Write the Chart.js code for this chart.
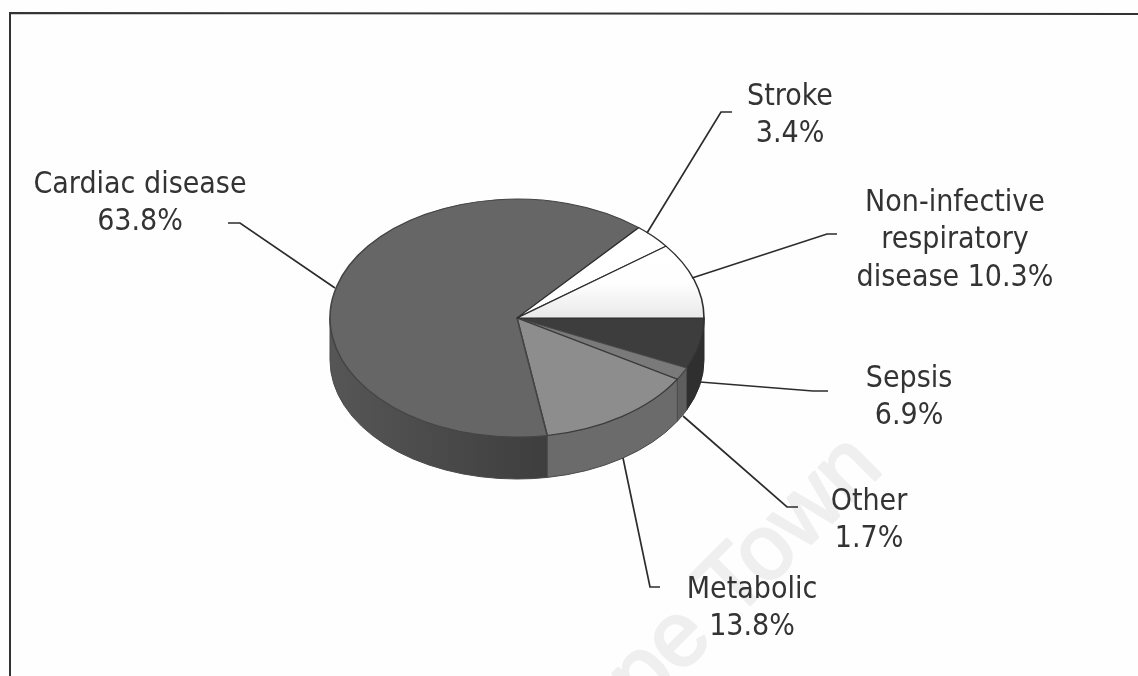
<!DOCTYPE html>
<html>
<head>
<meta charset="utf-8">
<style>html,body{margin:0;padding:0;background:#fff}#w{width:1138px;height:676px;position:relative}</style>
<script src="https://cdn.jsdelivr.net/npm/chart.js@4"></script>
</head>
<body>
<div id="w"><canvas id="c" width="1138" height="676"></canvas></div>
<script>
const categories = ["Sepsis", "Other", "Metabolic", "Cardiac disease", "Stroke", "Non-infective respiratory disease"];
const shareValues = [6.9, 1.7, 13.8, 63.8, 3.4, 10.3];
const topColors = ["#3d3d3d", "#7a7a7a", "#8d8d8d", "#666666", "#ffffff", "#ffffff"];
const sideColors = ["#2f2f2f", "#5e5e5e", "#6b6b6b", "#474747", "#dddddd", "#dddddd"];

const SQUASH = 119 / 187, DEPTH = 42;
const FONT = '30px "DejaVu Sans Condensed","DejaVu Sans",sans-serif';
const labelLayout = [
  {lines:["Sepsis","6.9%"], x:909, y:[387,424], path:[[828,391],[813,391],[700,382]]},
  {lines:["Other","1.7%"], x:869, y:[510,547], path:[[798,507],[787,507],[683,416]]},
  {lines:["Metabolic","13.8%"], x:752, y:[598,635], path:[[660,587],[650,587],[623,458]]},
  {lines:["Cardiac disease","63.8%"], x:140, y:[193,230], path:[[228,223],[240,223],[335,288]]},
  {lines:["Stroke","3.4%"], x:790, y:[105,142], path:[[732,112],[721,112],[647,233]]},
  {lines:["Non-infective","respiratory","disease 10.3%"], x:955, y:[211,248,286], path:[[837,234],[827,234],[692,278]]}
];

const pie3d = {
  id: 'pie3d',
  beforeDraw(chart) {
    const ctx = chart.ctx;
    ctx.save();
    ctx.fillStyle = '#fefefe';
    ctx.fillRect(0, 0, chart.width, chart.height);
    // watermark
    ctx.translate(885, 470);
    ctx.rotate(-Math.PI / 4);
    ctx.font = '92px "Liberation Sans",sans-serif';
    ctx.fillStyle = '#efefef';
    ctx.strokeStyle = '#efefef';
    ctx.lineWidth = 2.5;
    ctx.lineJoin = 'round';
    ctx.textAlign = 'right';
    ctx.fillText('Cape Town', 0, 0);
    ctx.strokeText('Cape Town', 0, 0);
    ctx.restore();
    // frame: left and top edges only
    ctx.save();
    ctx.strokeStyle = '#333333';
    ctx.lineWidth = 2;
    ctx.beginPath();
    ctx.moveTo(10, 676); ctx.lineTo(10, 13); ctx.lineTo(1138, 14);
    ctx.stroke();
    ctx.restore();
  },
  beforeDatasetDraw(chart) {
    const ctx = chart.ctx, arcs = chart.getDatasetMeta(0).data;
    const {x: cx, y: cy, outerRadius: rx} = arcs[0];
    const ry = rx * SQUASH;
    ctx.save();
    arcs.forEach((arc, i) => {
      const a0 = Math.max(arc.startAngle, 0), a1 = Math.min(arc.endAngle, Math.PI);
      if (a1 <= a0) return;
      let fill = sideColors[i];
      if (i === 3) {
        const g = ctx.createLinearGradient(cx - rx, 0, cx + 30, 0);
        g.addColorStop(0, '#565656'); g.addColorStop(1, '#3e3e3e');
        fill = g;
      }
      ctx.beginPath();
      ctx.ellipse(cx, cy, rx, ry, 0, a0, a1);
      ctx.ellipse(cx, cy + DEPTH, rx, ry, 0, a1, a0, true);
      ctx.closePath();
      ctx.fillStyle = fill;
      ctx.fill();
      ctx.strokeStyle = i === 0 ? '#2a2a2a' : '#4a4a4a';
      ctx.lineWidth = 1;
      ctx.stroke();
    });
    ctx.restore();
    ctx.save();
    ctx.translate(cx, cy); ctx.scale(1, SQUASH); ctx.translate(-cx, -cy);
  },
  afterDatasetDraw(chart) { chart.ctx.restore(); },
  afterDatasetsDraw(chart) {
    const ctx = chart.ctx;
    ctx.save();
    ctx.font = FONT;
    ctx.fillStyle = '#333333';
    ctx.strokeStyle = '#2c2c2c';
    ctx.lineWidth = 1.7;
    ctx.textAlign = 'center';
    ctx.textBaseline = 'alphabetic';
    labelLayout.forEach(l => {
      l.lines.forEach((t, k) => ctx.fillText(t, l.x, l.y[k]));
      ctx.beginPath();
      l.path.forEach((p, k) => k ? ctx.lineTo(p[0], p[1]) : ctx.moveTo(p[0], p[1]));
      ctx.stroke();
    });
    ctx.restore();
  }
};

const canvas = document.getElementById('c');
const gctx = canvas.getContext('2d');
const whiteGrad = gctx.createLinearGradient(0, 318 - 70 / SQUASH, 0, 318);
whiteGrad.addColorStop(0, '#ffffff');
whiteGrad.addColorStop(0.5, '#fefefe');
whiteGrad.addColorStop(1, '#e9e9e9');
const fills = topColors.slice();
fills[5] = whiteGrad;

new Chart(canvas, {
  type: 'pie',
  data: {
    labels: categories,
    datasets: [{
      data: shareValues,
      backgroundColor: fills,
      borderColor: ['#333333','#4a4a4a','#3a3a3a','#444444','#2e2e2e','#2e2e2e'],
      borderWidth: 1.6,
      clip: false
    }]
  },
  plugins: [pie3d],
  options: {
    responsive: false,
    animation: false,
    rotation: 90,
    radius: 187,
    layout: {padding: {right: 104, bottom: 40}},
    plugins: {legend: {display: false}, tooltip: {enabled: false}}
  }
});
</script>
</body>
</html>
